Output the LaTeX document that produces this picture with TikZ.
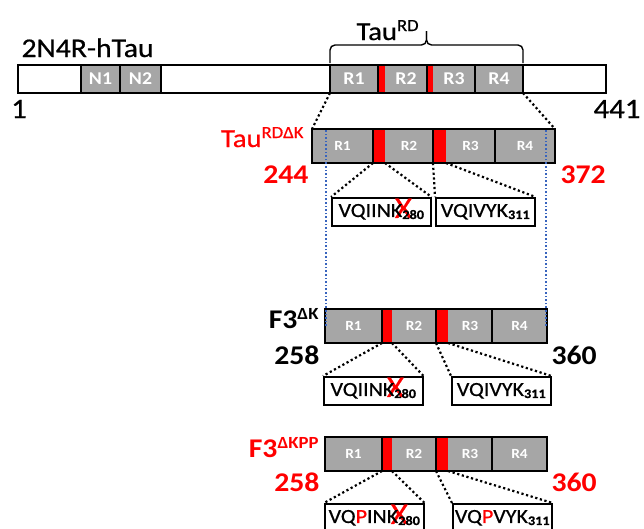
\documentclass[tikz,border=0pt]{standalone}
\usepackage{fontspec}
\setmainfont{Carlito}[FakeStretch=1.1]
\newfontfamily\plainfont{Carlito}[FakeStretch=1.1, FakeBold=0.6]
\usepackage{xcolor}
\usetikzlibrary{positioning, fit, calc}
\definecolor{segGray}{RGB}{166,166,166}
\definecolor{guideBlue}{RGB}{56,100,190}
\colorlet{motifRed}{red}

% superscript, residue number and the red deletion cross
\newcommand{\sups}[1]{\raisebox{9pt}{\fontsize{17pt}{17pt}\selectfont #1}}
\newcommand{\resid}[1]{\raisebox{-2pt}{\fontsize{13pt}{13pt}\selectfont\bfseries #1}}
\newcommand{\delmark}{\rlap{\kern4pt\smash{\raisebox{-1pt}{\fontsize{30pt}{30pt}\selectfont\color{motifRed}X}}}}

\begin{document}
\begin{tikzpicture}[
  x = 1pt, y = -1pt,
  font = \plainfont\fontsize{26pt}{28pt}\selectfont,
  %
  % ── Node styles ─────────────────────────────────────────────────
  seg/.style      = {fill=segGray, inner sep=0pt, outer sep=0pt,
                     minimum height=28pt, text=white,
                     font=\fontsize{18pt}{18pt}\selectfont\bfseries},
  emptyseg/.style = {seg, fill=white},
  motif/.style    = {seg, fill=motifRed},
  sseg/.style     = {seg, minimum height=34pt,
                     font=\fontsize{14pt}{14pt}\selectfont\bfseries},
  smotif/.style   = {sseg, fill=motifRed},
  barframe/.style = {draw, line width=1.6pt, inner sep=0pt, outer sep=0pt},
  divider/.style  = {line width=1.6pt},
  pep/.style      = {draw, fill=white, line width=1.6pt, inner sep=1pt,
                     minimum width=99pt, minimum height=28pt,
                     font=\plainfont\fontsize{20pt}{20pt}\selectfont},
  num/.style      = {font=\fontsize{27pt}{28pt}\selectfont\bfseries},
  dotlink/.style  = {line width=2.2pt, dash pattern=on 2.2pt off 2.6pt},
  guideline/.style= {line width=1.6pt, dash pattern=on 1.6pt off 2pt, guideBlue},
  bracket/.style  = {line width=1.4pt, rounded corners=5pt},
]
\useasboundingbox (0,0) rectangle (644,528);

%% ═══════════════════════════════════════════════════════════════════
%% FULL LENGTH — 2N4R-hTau
%% ═══════════════════════════════════════════════════════════════════

\node[emptyseg, minimum width=63pt, anchor=north west] (fl-nt) at (18,65) {};
\node[seg, minimum width=39pt, right=0pt of fl-nt] (fl-n1) {N1};
\node[seg, minimum width=41pt, right=0pt of fl-n1] (fl-n2) {N2};
\node[emptyseg, minimum width=169pt, right=0pt of fl-n2] (fl-pr) {};
\node[seg, minimum width=48pt, right=0pt of fl-pr] (fl-r1) {R1};
\node[motif, minimum width=7pt, right=0pt of fl-r1] (fl-m2) {};
\node[seg, minimum width=42pt, right=0pt of fl-m2] (fl-r2) {R2};
\node[motif, minimum width=6pt, right=0pt of fl-r2] (fl-m3) {};
\node[seg, minimum width=42pt, right=0pt of fl-m3] (fl-r3) {R3};
\node[seg, minimum width=48pt, right=0pt of fl-r3] (fl-r4) {R4};
\node[emptyseg, minimum width=83pt, right=0pt of fl-r4] (fl-ct) {};

\node[barframe, fit=(fl-nt)(fl-ct)] (fl) {};
\foreach \s in {n1,n2,pr,r1,m2,m3,r4,ct}
  \draw[divider] (fl-\s.north west) -- (fl-\s.south west);

\node[anchor=base west, font=\plainfont\fontsize{27pt}{28pt}\selectfont] (fl-title) at (18,57) {2N4R-hTau};
\node[anchor=base, font=\plainfont\fontsize{28pt}{28pt}\selectfont] (fl-first) at (19,118) {1};
\node[anchor=base, font=\plainfont\fontsize{28pt}{28pt}\selectfont] (fl-last) at (617,118) {441};

%% ── Repeat domain brace ──────────────────────────────────────────
\coordinate (fl-tip) at ($(fl-r1.north west)!0.5!(fl-r4.north east) + (0,-34)$);
\coordinate (fl-brace) at ($(fl-tip) + (0,14)$);
\draw[bracket] ([yshift=2pt]fl-r1.north west) |- (fl-brace) -- (fl-tip);
\draw[bracket] ([yshift=2pt]fl-r4.north east) |- (fl-brace) -- (fl-tip);
\node[anchor=base west] (fl-rd) at (353,40) {Tau\sups{RD}};

%% ═══════════════════════════════════════════════════════════════════
%% TauRD-dK  (244 - 372)
%% ═══════════════════════════════════════════════════════════════════

\node[sseg, minimum width=61pt, anchor=north west] (rd-r1) at (312,129) {R1};
\node[smotif, minimum width=12pt, right=0pt of rd-r1] (rd-m2) {};
\node[sseg, minimum width=48pt, right=0pt of rd-m2] (rd-r2) {R2};
\node[smotif, minimum width=13pt, right=0pt of rd-r2] (rd-m3) {};
\node[sseg, minimum width=49pt, right=0pt of rd-m3] (rd-r3) {R3};
\node[sseg, minimum width=60pt, right=0pt of rd-r3] (rd-r4) {R4};

\node[barframe, fit=(rd-r1)(rd-r4)] (rd) {};
\foreach \s in {m2,m3,r4}
  \draw[divider] (rd-\s.north west) -- (rd-\s.south west);

\node[anchor=base east, text=motifRed] (rd-title) at (307,147) {Tau\sups{RDΔK}};
\node[num, anchor=base east, text=motifRed] (rd-first) at (312,183) {244};
\node[num, anchor=base west, text=motifRed] (rd-last) at (557,183) {372};

% hexapeptides
\node[pep, anchor=north west] (rd-pa) at (331,197) {VQIIN\delmark K\resid{280}};
\node[pep, anchor=north west] (rd-pb) at (435,197) {VQIVYK\resid{311}};

%% ── Links ────────────────────────────────────────────────────────
\draw[dotlink] (fl-r1.south west) -- (rd-r1.north west);
\draw[dotlink] (fl-r4.south east) -- (rd-r4.north east);
\draw[dotlink] (rd-m2.south west) -- (rd-pa.north west);
\draw[dotlink] (rd-m2.south east) -- (rd-pa.north east);
\draw[dotlink] (rd-m3.south west) -- (rd-pb.north west);
\draw[dotlink] (rd-m3.south east) -- (rd-pb.north east);

%% ═══════════════════════════════════════════════════════════════════
%% F3-dK  (258 - 360)
%% ═══════════════════════════════════════════════════════════════════

\node[sseg, minimum width=57pt, anchor=north west] (fk-r1) at (325,309) {R1};
\node[smotif, minimum width=10pt, right=0pt of fk-r1] (fk-m2) {};
\node[sseg, minimum width=44pt, right=0pt of fk-m2] (fk-r2) {R2};
\node[smotif, minimum width=12pt, right=0pt of fk-r2] (fk-m3) {};
\node[sseg, minimum width=44pt, right=0pt of fk-m3] (fk-r3) {R3};
\node[sseg, minimum width=55pt, right=0pt of fk-r3] (fk-r4) {R4};

\node[barframe, fit=(fk-r1)(fk-r4)] (fk) {};
\foreach \s in {m2,m3,r4}
  \draw[divider] (fk-\s.north west) -- (fk-\s.south west);

\node[num, anchor=base east] (fk-title) at (322,328) {F3\sups{ΔK}};
\node[num, anchor=base east] (fk-first) at (323,364) {258};
\node[num, anchor=base west] (fk-last) at (548,364) {360};

\node[pep, anchor=north west] (fk-pa) at (323,376) {VQIIN\delmark K\resid{280}};
\node[pep, anchor=north west] (fk-pb) at (451,376) {VQIVYK\resid{311}};

%% ── Links ────────────────────────────────────────────────────────
\draw[dotlink] (fk-m2.south west) -- (fk-pa.north west);
\draw[dotlink] (fk-m2.south east) -- (fk-pa.north east);
\draw[dotlink] (fk-m3.south west) -- (fk-pb.north west);
\draw[dotlink] (fk-m3.south east) -- (fk-pb.north east);

% blue guides: 258 and 360 marked on TauRD-dK
\draw[guideline] ([xshift=1pt]fk.west) -- ([xshift=1pt]fk.west |- rd.north);
\draw[guideline] ([xshift=-1pt]fk.east) -- ([xshift=-1pt]fk.east |- rd.north);

%% ═══════════════════════════════════════════════════════════════════
%% F3-dKPP  (258 - 360, proline mutants)
%% ═══════════════════════════════════════════════════════════════════

\node[sseg, minimum width=57pt, anchor=north west] (fp-r1) at (325,437) {R1};
\node[smotif, minimum width=10pt, right=0pt of fp-r1] (fp-m2) {};
\node[sseg, minimum width=44pt, right=0pt of fp-m2] (fp-r2) {R2};
\node[smotif, minimum width=12pt, right=0pt of fp-r2] (fp-m3) {};
\node[sseg, minimum width=44pt, right=0pt of fp-m3] (fp-r3) {R3};
\node[sseg, minimum width=55pt, right=0pt of fp-r3] (fp-r4) {R4};

\node[barframe, fit=(fp-r1)(fp-r4)] (fp) {};
\foreach \s in {m2,m3,r4}
  \draw[divider] (fp-\s.north west) -- (fp-\s.south west);

\node[num, anchor=base east, text=motifRed] (fp-title) at (322,457) {F3\sups{ΔKPP}};
\node[num, anchor=base east, text=motifRed] (fp-first) at (323,491) {258};
\node[num, anchor=base west, text=motifRed] (fp-last) at (548,491) {360};

\node[pep, anchor=north west] (fp-pa) at (324,503)
  {VQ\textcolor{motifRed}{P}IN\delmark K\resid{280}};
\node[pep, anchor=north west] (fp-pb) at (452,503)
  {VQ\textcolor{motifRed}{P}VYK\resid{311}};

%% ── Links ────────────────────────────────────────────────────────
\draw[dotlink] (fp-m2.south west) -- (fp-pa.north west);
\draw[dotlink] (fp-m2.south east) -- (fp-pa.north east);
\draw[dotlink] (fp-m3.south west) -- (fp-pb.north west);
\draw[dotlink] (fp-m3.south east) -- (fp-pb.north east);

\end{tikzpicture}
\end{document}
